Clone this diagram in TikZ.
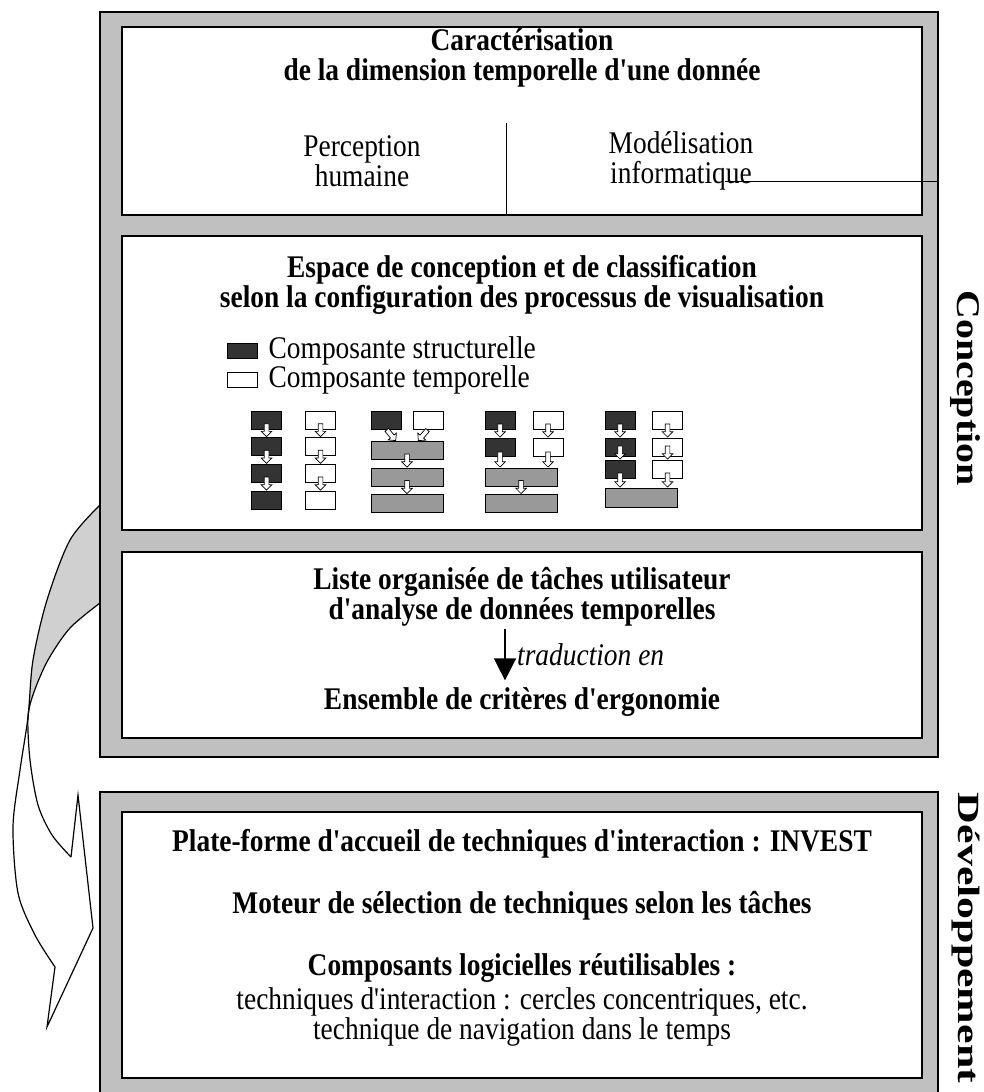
\documentclass[tikz,border=0pt]{standalone}
\usepackage{fontspec}
\setmainfont{Liberation Serif}[Ligatures=TeXOff, FakeStretch=0.87]
\usetikzlibrary{arrows.meta,positioning,calc,shapes.arrows}
\definecolor{framegray}{RGB}{192,192,192}
\definecolor{backgray}{RGB}{208,208,208}
\definecolor{structdark}{RGB}{51,51,51}
\definecolor{fusedgray}{RGB}{153,153,153}

\tikzset{
  frame/.style={draw=black, fill=framegray, line width=1.6pt, inner sep=0pt},
  panel/.style={draw=black, fill=white, line width=1.6pt, inner sep=0pt},
  heading/.style={font=\fontsize{31.5}{30}\selectfont\bfseries, align=center, inner sep=2pt},
  body/.style={font=\fontsize{31.5}{30}\selectfont, align=center, inner sep=2pt},
  sidetitle/.style={font=\fontsize{36}{40}\selectfont\bfseries, rotate=-90, inner sep=0pt},
  sbox/.style={draw=black, fill=structdark, line width=1pt, minimum width=30pt, minimum height=18pt, inner sep=0pt},
  tbox/.style={sbox, fill=white},
  fbox/.style={sbox, fill=fusedgray, minimum width=72pt},
  hollow/.style={single arrow, draw=black, fill=white, line width=0.7pt, inner sep=2pt, single arrow head extend=3pt, minimum height=13pt},
  bigarrow/.style={line width=1.5pt, -{Triangle[length=22pt,width=22pt]}},
}
\newcommand{\flowto}[3][13pt]{\path (#2) -- (#3) node[hollow, minimum height=#1, pos=1, anchor=tip, sloped, allow upside down] {};}

\begin{document}
\begin{tikzpicture}[x=1pt,y=-1pt]
    \useasboundingbox (0,0) rectangle (984,1092);
    \clip (0,0) rectangle (984,1092);

    % twisted ribbon from Conception to Developpement
    \fill[backgray] plot[smooth] coordinates {(100,505) (70,540) (47,600) (33,660) (28,717)}
        -- plot[smooth] coordinates {(28,717) (34,692) (48,660) (70,628) (100,603)} -- cycle;
    \draw[line width=1.2pt, line join=miter] plot[smooth] coordinates {(100,505) (70,540) (47,600) (33,660) (28,717) (20,770) (13,827) (18,893) (35,935) (55,967)}
        -- (47,1027) -- (93,928) -- (78,795) -- (71,857);
    \draw[line width=1.2pt] plot[smooth] coordinates {(71,857) (52,835) (38,805) (30,760) (28,717) (34,692) (48,660) (70,628) (100,603)};

    % frames and panels
    \node[frame, minimum width=838pt, minimum height=745pt] (conc) at (519,384.5) {};
    \node[frame, minimum width=838pt, minimum height=318pt] (dev) at (519,951) {};
    \node[panel, minimum width=800pt, minimum height=188pt] (top) at (522,121) {};
    \node[panel, minimum width=800pt, minimum height=294pt] (mid) at (522,383) {};
    \node[panel, minimum width=800pt, minimum height=186pt] (low) at (522,645) {};
    \node[panel, minimum width=800pt, minimum height=266pt] (devpanel) at (522,945) {};

    \node[sidetitle] (conlabel) at (965,388) {\resizebox*{195pt}{30pt}{Conception}};
    \node[sidetitle] (devlabel) at (966,938) {\resizebox*{290pt}{28pt}{Développement}};

    % top panel
    \node[heading] (carac) at (522,58) {Caractérisation\\de la dimension temporelle d'une donnée};
    \node[body] (percep) at (362,161) {Perception\\humaine};
    \node[body] (model) at (681,161) {Modélisation\\informatique};
    \coordinate (divtop) at (506,123);
    \draw[line width=1pt] (divtop) -- (divtop |- top.south);
    \coordinate (infoend) at (725,181);
    \draw[line width=1pt] (infoend) -- (infoend -| conc.east);

    % design space
    \node[heading] (espace) at (522,285) {Espace de conception et de classification\\selon la configuration des processus de visualisation};
    \node[sbox, minimum height=15pt] (legS) at (242,350.5) {};
    \node[body, right=9pt of legS] (legStxt) {Composante structurelle};
    \node[tbox, minimum height=15pt] (legT) at (242,379.5) {};
    \node[body, right=9pt of legT] (legTtxt) {Composante temporelle};

    % pipeline 1
    \foreach \i/\y in {1/420,2/446.7,3/473.3,4/500} {
        \node[sbox] (g1s\i) at (266.5,\y) {};
        \node[tbox] (g1t\i) at (320.5,\y) {};
    }
    \foreach \i/\j in {1/2,2/3,3/4} {
        \flowto{g1s\i}{g1s\j}
        \flowto{g1t\i}{g1t\j}
    }

    % pipeline 2
    \node[sbox] (g2s) at (386.5,420) {};
    \node[tbox] (g2t) at (428,420) {};
    \node[fbox] (g2f1) at (407,450.5) {};
    \node[fbox] (g2f2) at (407,477) {};
    \node[fbox] (g2f3) at (407,503.5) {};
    \flowto[14pt]{g2s.south}{$(g2f1.north)+(-11,0)$}
    \flowto[14pt]{g2t.south}{$(g2f1.north)+(11,0)$}
    \flowto{g2f1}{g2f2}
    \flowto{g2f2}{g2f3}

    % pipeline 3
    \node[sbox] (g3s1) at (500,420) {};
    \node[sbox] (g3s2) at (500,447) {};
    \node[tbox] (g3t1) at (548,420) {};
    \node[tbox] (g3t2) at (548,447) {};
    \node[fbox] (g3f1) at (521,477) {};
    \node[fbox] (g3f2) at (521,503.5) {};
    \flowto{g3s1}{g3s2}
    \flowto{g3t1}{g3t2}
    \flowto[15pt]{g3s2}{g3f1.north -| g3s2.south}
    \flowto[15pt]{g3t2}{g3f1.north -| g3t2.south}
    \flowto{g3f1}{g3f2}

    % pipeline 4
    \foreach \i/\y in {1/420,2/447,3/469} {
        \node[sbox] (g4s\i) at (620,\y) {};
        \node[tbox] (g4t\i) at (667.5,\y) {};
    }
    \node[fbox, minimum height=19pt] (g4f) at (641,497.5) {};
    \foreach \i/\j in {1/2,2/3} {
        \flowto{g4s\i}{g4s\j}
        \flowto{g4t\i}{g4t\j}
    }
    \flowto[14pt]{g4s3}{g4f.north -| g4s3.south}
    \flowto[14pt]{g4t3}{g4f.north -| g4t3.south}

    % tasks and criteria
    \node[heading] (liste) at (522,597) {Liste organisée de tâches utilisateur\\d'analyse de données temporelles};
    \node[heading] (ensemble) at (522,702) {Ensemble de critères d'ergonomie};
    \draw[bigarrow, shorten >=5pt] ([xshift=-17pt]liste.south) -- ([xshift=-17pt]ensemble.north);
    \node[body, font=\fontsize{31.5}{30}\selectfont\itshape, anchor=west] (trad) at (515,655) {traduction en};

    % development panel
    \node[heading] (plate) at (522,844) {Plate-forme d'accueil de techniques d'interaction : INVEST};
    \node[heading] (moteur) at (522,906) {Moteur de sélection de techniques selon les tâches};
    \node[heading] (compo) at (522,968) {Composants logicielles réutilisables :};
    \node[body] (techn) at (522,1017) {techniques d'interaction : cercles concentriques, etc.\\technique de navigation dans le temps};
\end{tikzpicture}
\end{document}
